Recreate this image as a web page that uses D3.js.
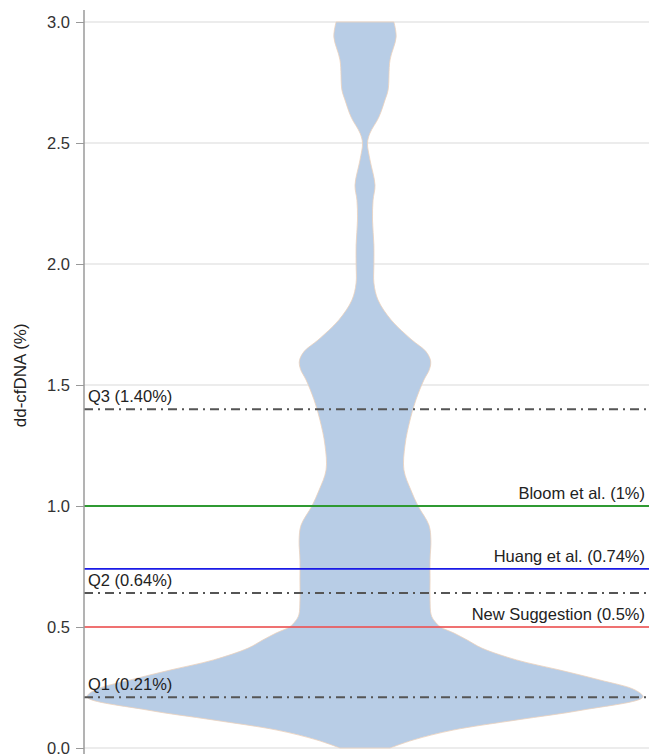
<!DOCTYPE html>
<html>
<head>
<meta charset="utf-8">
<script src="https://cdn.jsdelivr.net/npm/d3@7"></script>
<style>
  html, body { margin: 0; padding: 0; background: #fff; }
  svg { display: block; font-family: "Liberation Sans", Arial, sans-serif; }
</style>
</head>
<body>
<svg id="chart" width="649" height="754"></svg>
<script>
// Violin outline: dd-cfDNA level (%) and relative kernel density at that level
const densityLevels = [0.00, 0.033, 0.074, 0.116, 0.157, 0.211, 0.240, 0.281, 0.322, 0.364,
  0.413, 0.446, 0.475, 0.500, 0.525, 0.550, 0.612, 0.694, 0.777, 0.860, 0.921,
  1.000, 1.066, 1.149, 1.252, 1.355, 1.438, 1.521, 1.565, 1.600, 1.640, 1.686,
  1.769, 1.851, 1.921, 1.996, 2.079, 2.182, 2.264, 2.326, 2.430, 2.500,
  2.541, 2.607, 2.678, 2.719, 2.843, 2.938, 3.000];
const densityValues = [0.090, 0.173, 0.317, 0.547, 0.784, 1.000, 0.971, 0.845, 0.701, 0.545,
  0.420, 0.368, 0.320, 0.272, 0.250, 0.238, 0.234, 0.234, 0.234, 0.237, 0.230,
  0.191, 0.165, 0.140, 0.144, 0.162, 0.183, 0.212, 0.232, 0.236, 0.218, 0.169,
  0.094, 0.047, 0.032, 0.032, 0.032, 0.027, 0.029, 0.036, 0.018, 0.009,
  0.018, 0.050, 0.072, 0.083, 0.090, 0.112, 0.104];

// Y axis ticks
const yTicks = [0.0, 0.5, 1.0, 1.5, 2.0, 2.5, 3.0];

// Horizontal threshold lines
const refValues = [1.40, 1.00, 0.74, 0.64, 0.50, 0.21];
const refLabels = ["Q3 (1.40%)", "Bloom et al. (1%)", "Huang et al. (0.74%)", "Q2 (0.64%)", "New Suggestion (0.5%)", "Q1 (0.21%)"];
const refKinds  = ["quartile", "bloom", "huang", "quartile", "suggestion", "quartile"];

const styles = {
  quartile:   { color: "#555555", width: 2,   dash: "9,5,2,5", anchor: "start" },
  bloom:      { color: "#2f9a32", width: 2,   dash: null,      anchor: "end" },
  huang:      { color: "#1a1ae6", width: 1.6, dash: null,      anchor: "end" },
  suggestion: { color: "#f04848", width: 1.6, dash: null,      anchor: "end" }
};

const W = 649, H = 754;
const plotLeft = 84, plotRight = 649, plotTop = 22, plotBottom = 748;

const svg = d3.select("#chart");

const y = d3.scaleLinear().domain([0, 3]).range([plotBottom, plotTop]);
const x = d3.scaleBand().domain(["dd-cfDNA"]).range([plotLeft, 646]);
const cx = x("dd-cfDNA") + x.bandwidth() / 2;
const halfWidth = d3.scaleLinear().domain([0, 1]).range([0, 278]);

// gridlines
svg.append("g")
  .selectAll("line")
  .data(yTicks)
  .join("line")
  .attr("x1", plotLeft).attr("x2", plotRight)
  .attr("y1", d => y(d)).attr("y2", d => y(d))
  .attr("stroke", "#e6e6e6")
  .attr("stroke-width", 1.5);

// violin
const profile = densityLevels.map((v, i) => ({ v, d: densityValues[i] }));
const area = d3.area()
  .y(p => y(p.v))
  .x0(p => cx - halfWidth(p.d))
  .x1(p => cx + halfWidth(p.d))
  .curve(d3.curveCatmullRom.alpha(0.5));

svg.append("path")
  .datum(profile)
  .attr("d", area)
  .attr("fill", "#b8cde6")
  .attr("stroke", "#ecd2bc")
  .attr("stroke-width", 0.8);

// threshold lines and labels
const refs = refValues.map((v, i) => ({ v, label: refLabels[i], s: styles[refKinds[i]] }));
const refG = svg.append("g");
refG.selectAll("line")
  .data(refs)
  .join("line")
  .attr("x1", plotLeft).attr("x2", plotRight)
  .attr("y1", d => y(d.v)).attr("y2", d => y(d.v))
  .attr("stroke", d => d.s.color)
  .attr("stroke-width", d => d.s.width)
  .attr("stroke-dasharray", d => d.s.dash);

refG.selectAll("text")
  .data(refs)
  .join("text")
  .attr("x", d => d.s.anchor === "start" ? 88 : 645)
  .attr("y", d => y(d.v) - 7)
  .attr("text-anchor", d => d.s.anchor)
  .attr("font-size", 16.5)
  .attr("fill", "#222")
  .text(d => d.label);

// y axis
const axis = svg.append("g")
  .attr("transform", `translate(${plotLeft},0)`)
  .call(d3.axisLeft(y).tickValues(yTicks).tickFormat(d3.format(".1f")).tickSize(8).tickPadding(6));
axis.select(".domain").remove();
axis.selectAll(".tick line").attr("stroke", "#999");
axis.selectAll(".tick text")
  .attr("font-size", 16.5)
  .attr("fill", "#333")
  .attr("font-family", "'Liberation Sans', Arial, sans-serif");

svg.append("line")
  .attr("x1", plotLeft).attr("x2", plotLeft)
  .attr("y1", 10).attr("y2", H)
  .attr("stroke", "#9a9a9a")
  .attr("stroke-width", 1.5);

// y axis title
svg.append("text")
  .attr("transform", `translate(22,${y(1.54)}) rotate(-90)`)
  .attr("text-anchor", "middle")
  .attr("dominant-baseline", "middle")
  .attr("font-size", 17)
  .attr("fill", "#222")
  .text("dd-cfDNA (%)");
</script>
</body>
</html>
